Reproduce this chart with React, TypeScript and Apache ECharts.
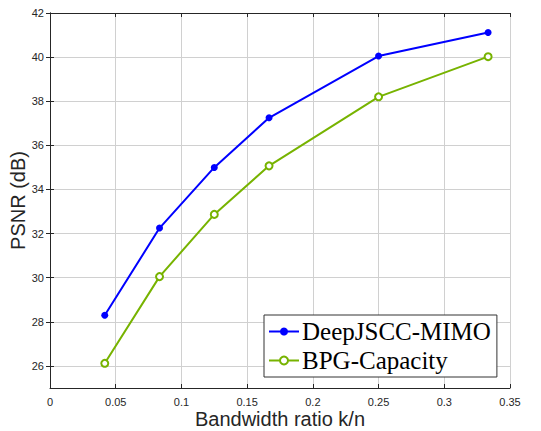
import React, { useEffect, useRef } from "react";
import * as echarts from "echarts";

const ratios = [1 / 24, 1 / 12, 1 / 8, 1 / 6, 1 / 4, 1 / 3];
const deepJscc = [28.3, 32.25, 35.0, 37.25, 40.05, 41.12];
const bpg = [26.12, 30.05, 32.87, 35.07, 38.2, 40.02];
const seriesNames = ["DeepJSCC-MIMO", "BPG-Capacity"];
const yTicks = [26, 28, 30, 32, 34, 36, 38, 40, 42];

export default function App() {
  const ref = useRef<HTMLDivElement>(null);
  useEffect(() => {
    if (!ref.current) return;
    const chart = echarts.init(ref.current, null, { renderer: "svg" });
    const tickColor = "#262626";
    const axisLine = { show: true, lineStyle: { color: "#262626", width: 1 } };
    const gridLine = { show: true, lineStyle: { color: "#d0d0d0", width: 1 } };
    chart.setOption({
      animation: false,
      backgroundColor: "#ffffff",
      grid: { left: 50, right: 31, top: 13, bottom: 43, containLabel: false, outerBoundsMode: "none" },
      legend: {
        orient: "vertical",
        left: 264,
        top: 315,
        padding: [4, 6, 4, 4],
        itemGap: 4,
        itemWidth: 30,
        itemHeight: 10,
        backgroundColor: "#ffffff",
        borderColor: "#333333",
        borderWidth: 1,
        textStyle: { fontFamily: "Liberation Serif", fontSize: 25, color: "#000000", padding: [0, 0, 0, -2] },
        data: seriesNames,
      },
      xAxis: [
        {
          type: "value",
          min: 0,
          max: 0.35,
          interval: 0.05,
          name: "Bandwidth ratio k/n",
          nameLocation: "middle",
          nameGap: 21,
          nameMoveOverlap: false,
          nameTextStyle: { fontFamily: "Liberation Sans", fontSize: 20, color: tickColor, lineHeight: 20 },
          axisLine,
          axisTick: { show: true, inside: true, length: 4, lineStyle: { color: tickColor } },
          axisLabel: {
            fontFamily: "Liberation Sans",
            fontSize: 11,
            color: tickColor,
            margin: 8,
            formatter: (v: number) => String(parseFloat(v.toFixed(2))),
          },
          splitLine: gridLine,
        },
        {
          type: "value",
          position: "top",
          min: 0,
          max: 0.35,
          interval: 0.05,
          axisLine,
          axisTick: { show: true, inside: true, length: 4, lineStyle: { color: tickColor } },
          axisLabel: { show: false },
          splitLine: { show: false },
        },
      ],
      yAxis: [
        {
          type: "value",
          min: 25,
          max: 42,
          interval: 1,
          name: "PSNR (dB)",
          nameLocation: "middle",
          nameGap: 22,
          nameMoveOverlap: false,
          nameTextStyle: { fontFamily: "Liberation Sans", fontSize: 20, color: tickColor, lineHeight: 20 },
          axisLine,
          axisTick: {
            show: true,
            inside: true,
            length: 4,
            lineStyle: { color: tickColor },
            customValues: yTicks,
          },
          axisLabel: {
            fontFamily: "Liberation Sans",
            fontSize: 11,
            color: tickColor,
            margin: 6,
            customValues: yTicks,
          },
          splitLine: gridLine,
        },
        {
          type: "value",
          position: "right",
          min: 25,
          max: 42,
          interval: 1,
          axisLine,
          axisTick: {
            show: true,
            inside: true,
            length: 4,
            lineStyle: { color: tickColor },
            customValues: yTicks,
          },
          axisLabel: { show: false },
          splitLine: { show: false },
        },
      ],
      series: [
        {
          name: seriesNames[0],
          type: "line",
          data: ratios.map((x, i) => [x, deepJscc[i]]),
          symbol: "circle",
          symbolSize: 7,
          lineStyle: { color: "#0000ff", width: 2 },
          itemStyle: { color: "#0000ff" },
          color: "#0000ff",
          z: 3,
        },
        {
          name: seriesNames[1],
          type: "line",
          data: ratios.map((x, i) => [x, bpg[i]]),
          symbol: "circle",
          symbolSize: 7,
          lineStyle: { color: "#77b300", width: 2 },
          itemStyle: { color: "#ffffff", borderColor: "#77b300", borderWidth: 2 },
          color: "#77b300",
          z: 2,
        },
      ],
    });
    return () => chart.dispose();
  }, []);
  return <div ref={ref} style={{ width: 541, height: 431, position: "absolute", left: 0, top: 0 }} />;
}
